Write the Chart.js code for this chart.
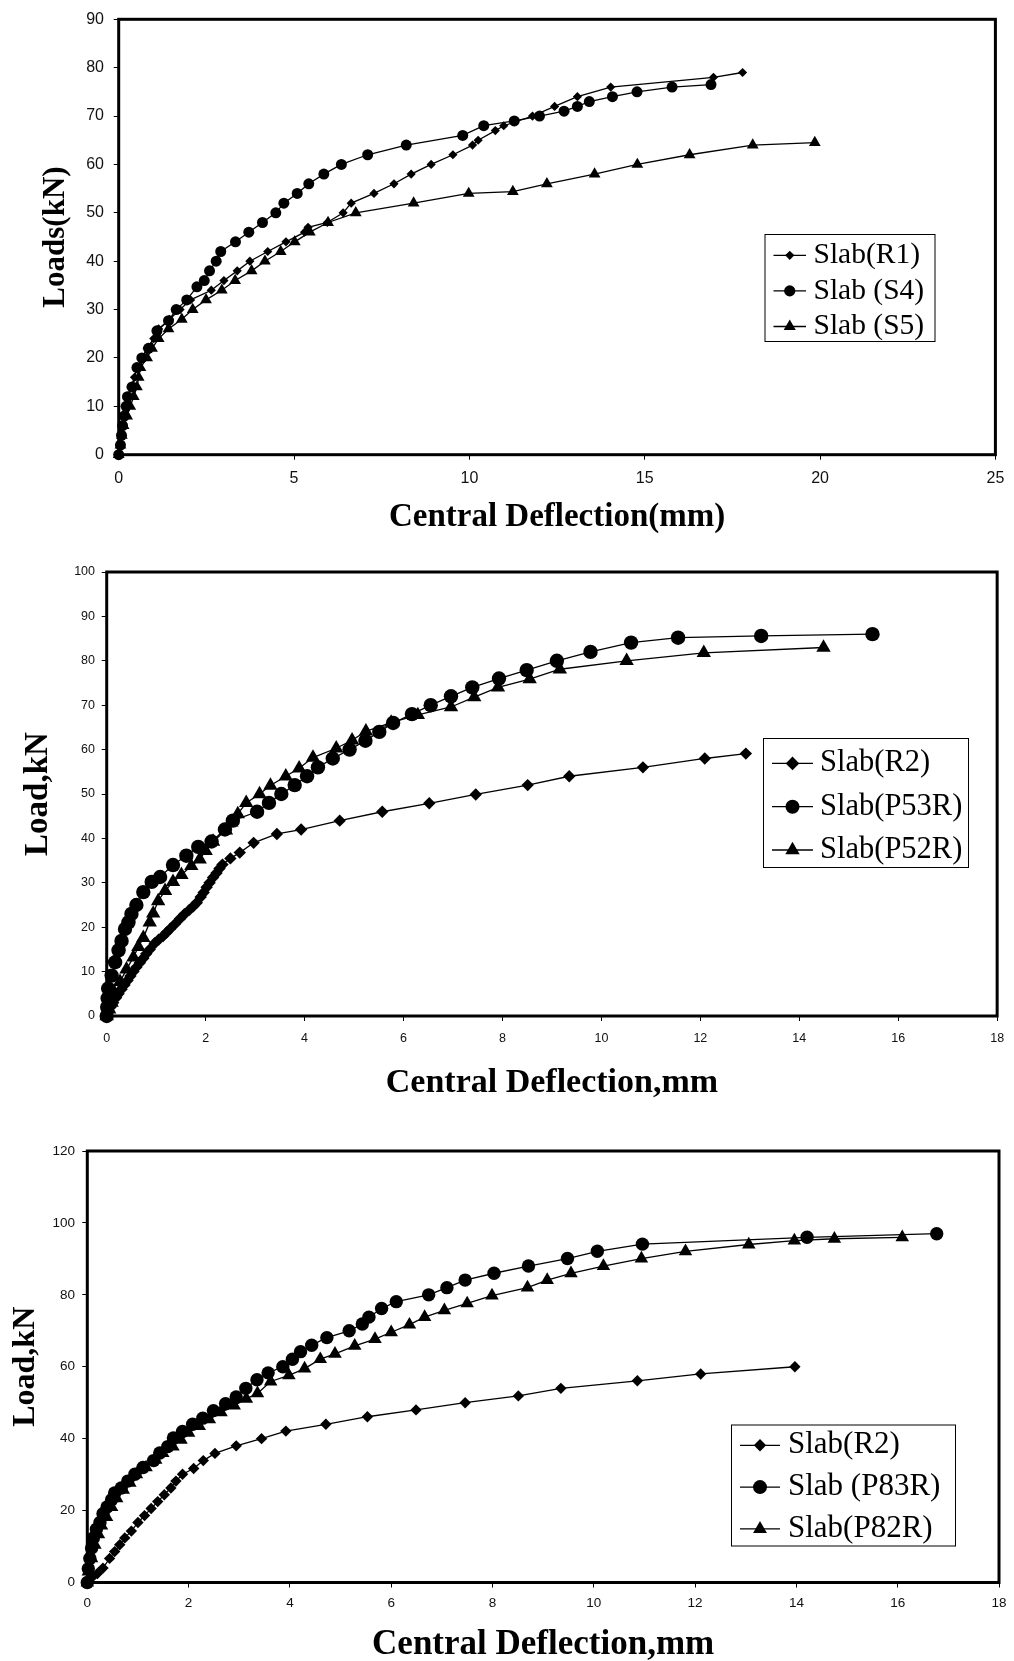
<!DOCTYPE html>
<html>
<head>
<meta charset="utf-8">
<script src="https://cdn.jsdelivr.net/npm/chart.js@4.4.1/dist/chart.umd.min.js"></script>
<style>
html, body { margin: 0; padding: 0; background: #fff; }
#wrap { position: relative; width: 1014px; height: 1661px; }
canvas { position: absolute; left: 0; }
</style>
</head>
<body>
<div id="wrap">
  <canvas id="c1" width="1014" height="540" style="top:0"></canvas>
  <canvas id="c2" width="1014" height="570" style="top:540px"></canvas>
  <canvas id="c3" width="1014" height="551" style="top:1110px"></canvas>
</div>
<script>
// ---- chart 1 : Slab R1 / S4 / S5
const r1Defl = [0, 0.03, 0.06, 0.09, 0.13, 0.18, 0.24, 0.35, 0.45, 0.53, 0.66, 0.81, 1.0, 1.14, 1.45, 1.75, 2.05, 2.64, 3.0, 3.38, 3.74, 4.25, 4.77, 5.3, 5.4, 5.95, 6.4, 6.63, 7.28, 7.85, 8.34, 8.91, 9.53, 10.09, 10.25, 10.74, 10.98, 11.8, 12.43, 13.08, 14.03, 16.96, 17.79];
const r1Load = [0, 2, 4, 6, 8, 10, 12, 14, 16, 18, 20, 22, 24, 26, 28, 30, 32, 34, 36, 38, 40, 42, 44, 46, 47, 48, 50, 52, 54, 56, 58, 60, 62, 64, 65, 67, 68, 70, 72, 74, 76, 78, 79];
const s4Defl = [0, 0.05, 0.08, 0.11, 0.16, 0.21, 0.25, 0.38, 0.52, 0.66, 0.85, 1.09, 1.42, 1.64, 1.94, 2.23, 2.44, 2.59, 2.78, 2.91, 3.33, 3.71, 4.10, 4.48, 4.71, 5.09, 5.42, 5.85, 6.35, 7.10, 8.2, 9.81, 10.41, 11.28, 12.0, 12.7, 13.08, 13.42, 14.08, 14.78, 15.78, 16.89];
const s4Load = [0, 2, 4, 6, 8, 10, 12, 14, 18, 20, 22, 25.6, 27.7, 30, 32, 34.7, 36, 38, 40, 42, 44, 46, 48, 50, 52, 54, 56, 58, 60, 62, 64, 66, 68, 69, 70, 71, 72, 73, 74, 75, 76, 76.5];
const s5Defl = [0, 0.05, 0.09, 0.14, 0.24, 0.33, 0.43, 0.52, 0.57, 0.62, 0.81, 0.95, 1.14, 1.42, 1.8, 2.11, 2.49, 2.94, 3.32, 3.79, 4.17, 4.62, 5.02, 5.45, 5.97, 6.76, 8.41, 9.98, 11.24, 12.21, 13.57, 14.79, 16.28, 18.08, 19.85];
const s5Load = [0, 2, 4, 6, 8, 10, 12, 14, 16, 18, 20, 22, 24, 26, 28, 30, 32, 34, 36, 38, 40, 42, 44, 46, 48, 50, 52, 54, 54.4, 56, 58, 60, 62, 64, 64.5];

// ---- chart 2 : Slab R2 / P53R / P52R
const r2Defl = [0, 0.04, 0.08, 0.13, 0.18, 0.24, 0.3, 0.36, 0.42, 0.48, 0.54, 0.6, 0.67, 0.74, 0.8, 0.87, 0.97, 1.05, 1.14, 1.21, 1.28, 1.38, 1.48, 1.57, 1.67, 1.75, 1.82, 1.9, 1.96, 2.02, 2.08, 2.15, 2.22, 2.28, 2.34, 2.5, 2.69, 2.97, 3.44, 3.93, 4.71, 5.57, 6.52, 7.46, 8.51, 9.35, 10.84, 12.09, 12.92];
const r2Load = [0, 1, 2, 3, 4, 5, 6, 7, 8, 9, 10, 11, 12, 13, 14, 15, 16.4, 17.2, 18, 18.8, 19.6, 20.7, 21.9, 22.9, 23.9, 24.7, 25.5, 26.8, 27.8, 29, 30, 31.2, 32.2, 33.2, 34.1, 35.5, 36.8, 39, 41, 42, 44, 46, 47.9, 49.9, 52, 54, 56, 58, 59.1];
const p53Defl = [0, 0.01, 0.02, 0.03, 0.1, 0.17, 0.24, 0.3, 0.37, 0.44, 0.5, 0.6, 0.74, 0.91, 1.08, 1.34, 1.61, 1.85, 2.12, 2.39, 2.55, 3.04, 3.28, 3.53, 3.8, 4.05, 4.27, 4.57, 4.91, 5.23, 5.51, 5.79, 6.17, 6.55, 6.96, 7.39, 7.93, 8.49, 9.1, 9.78, 10.6, 11.55, 13.23, 15.48];
const p53Load = [0, 2, 4, 6.2, 9.1, 12.1, 14.8, 16.9, 19.6, 21.1, 23, 25, 27.9, 30.2, 31.3, 34, 36.1, 38.1, 39.3, 42, 44, 46, 48, 50, 52, 54, 56, 58, 60, 62, 64, 66, 68, 70, 72, 74, 76, 77.9, 80, 82, 84.1, 85.2, 85.6, 86];
const p52Defl = [0, 0.05, 0.1, 0.17, 0.27, 0.4, 0.54, 0.64, 0.74, 0.87, 0.94, 1.04, 1.18, 1.34, 1.51, 1.71, 1.88, 2.0, 2.15, 2.41, 2.52, 2.65, 2.82, 3.09, 3.31, 3.62, 3.89, 4.17, 4.64, 4.96, 5.24, 5.75, 6.29, 6.96, 7.43, 7.91, 8.55, 9.16, 10.51, 12.07, 14.49];
const p52Load = [0, 1.5, 3, 5, 7.7, 10.5, 13.2, 15.6, 17.6, 21.1, 23.1, 25.9, 28.2, 30.2, 31.8, 33.8, 35.3, 37.2, 39.3, 41.8, 43.6, 45.5, 48, 50, 51.9, 54, 55.8, 58.2, 60.3, 62.1, 64.1, 66.1, 67.8, 69.6, 71.8, 74, 75.9, 78.1, 80, 81.8, 83];

// ---- chart 3 : Slab R2 / P83R / P82R
const r2bDefl = [0, 0.1, 0.2, 0.31, 0.44, 0.54, 0.64, 0.74, 0.87, 1.0, 1.13, 1.26, 1.39, 1.52, 1.65, 1.75, 1.88, 2.1, 2.29, 2.52, 2.94, 3.44, 3.92, 4.71, 5.53, 6.49, 7.46, 8.51, 9.35, 10.86, 12.11, 13.97];
const r2bLoad = [0, 1.5, 2.5, 4, 6.7, 8.6, 10.5, 12.4, 14.3, 16.7, 18.6, 20.6, 22.5, 24.4, 26.3, 28.2, 30.1, 31.7, 33.9, 35.9, 38, 40, 42.1, 44, 46.1, 48, 50, 51.9, 54, 56.1, 58, 60];
const p83Defl = [0, 0.02, 0.05, 0.085, 0.12, 0.18, 0.25, 0.31, 0.39, 0.48, 0.54, 0.67, 0.8, 0.94, 1.1, 1.31, 1.43, 1.59, 1.7, 1.88, 2.08, 2.28, 2.49, 2.73, 2.94, 3.13, 3.35, 3.57, 3.86, 4.05, 4.21, 4.43, 4.73, 5.17, 5.43, 5.56, 5.81, 6.1, 6.74, 7.1, 7.46, 8.03, 8.71, 9.48, 10.07, 10.96, 14.21, 16.77];
const p83Load = [0, 3.8, 6.7, 9.6, 12.4, 14.8, 16.7, 19.1, 21, 23, 24.9, 26.3, 28.2, 30.1, 32, 33.9, 36, 37.8, 40.2, 42, 44, 45.7, 47.8, 49.7, 51.6, 54, 56.4, 58.3, 60, 62.1, 64.2, 66, 68.1, 70, 71.9, 73.8, 76.2, 78.1, 80, 82, 84.1, 86, 88, 90.1, 92.1, 94.1, 96, 97];
const p82Defl = [0, 0.02, 0.085, 0.15, 0.22, 0.28, 0.38, 0.48, 0.58, 0.71, 0.84, 0.97, 1.16, 1.35, 1.49, 1.69, 1.85, 2.0, 2.21, 2.41, 2.64, 2.9, 3.14, 3.36, 3.62, 3.98, 4.29, 4.6, 4.89, 5.28, 5.68, 6.0, 6.36, 6.66, 7.05, 7.5, 7.99, 8.69, 9.08, 9.55, 10.19, 10.94, 11.81, 13.06, 13.96, 14.75, 16.09];
const p82Load = [0, 3, 6.7, 10.5, 13.4, 15.8, 18.2, 21, 23.4, 25.8, 27.7, 30.1, 32, 34.1, 36, 37.8, 39.7, 41.6, 43.5, 45.4, 47.3, 49.2, 51.1, 52.6, 55.9, 57.6, 59.5, 62.1, 63.6, 65.8, 67.7, 69.6, 71.7, 73.8, 75.7, 77.6, 79.8, 82, 84.1, 86, 88, 90.1, 92.1, 94, 95.1, 95.6, 96];

// 테두리 (축 4면 굵은 선)
const frame = {
    id: 'frame',
    beforeDatasetsDraw(chart, args, o) {
        const { ctx, chartArea: a } = chart;
        ctx.save();
        ctx.lineWidth = o.width || 3;
        ctx.strokeStyle = '#000';
        ctx.strokeRect(a.left, a.top, a.right - a.left, a.bottom - a.top);
        ctx.restore();
    }
};

function marker(ctx, style, x, y, r) {
    ctx.beginPath();
    if (style === 'circle') ctx.arc(x, y, r, 0, Math.PI * 2);
    else if (style === 'rectRot') { ctx.moveTo(x - r, y); ctx.lineTo(x, y - r); ctx.lineTo(x + r, y); ctx.lineTo(x, y + r); ctx.closePath(); }
    else { ctx.moveTo(x, y - r); ctx.lineTo(x + r * 0.866, y + r / 2); ctx.lineTo(x - r * 0.866, y + r / 2); ctx.closePath(); }
    ctx.fill();
}

// 범례 박스 (선 + 마커 + 글자)
const boxLegend = {
    id: 'boxLegend',
    afterDraw(chart, args, o) {
        const ctx = chart.ctx;
        ctx.save();
        ctx.strokeStyle = '#000';
        ctx.fillStyle = '#000';
        ctx.lineWidth = 1;
        ctx.strokeRect(o.x + 0.5, o.y + 0.5, o.w, o.h);
        ctx.font = o.size + 'px "Liberation Serif", "Times New Roman", serif';
        ctx.textBaseline = 'middle';
        chart.data.datasets.forEach((ds, i) => {
            const cy = o.y + o.first + i * o.step;
            ctx.lineWidth = 1.3;
            ctx.beginPath(); ctx.moveTo(o.lx1, cy); ctx.lineTo(o.lx2, cy); ctx.stroke();
            marker(ctx, ds.pointStyle, (o.lx1 + o.lx2) / 2, cy, o.radii[i]);
            ctx.fillText(ds.label, o.tx, cy);
        });
        ctx.restore();
    }
};

function series(label, xs, ys, style, r) {
    return {
        label,
        data: xs.map((x, i) => ({ x, y: ys[i] })),
        showLine: true
        ,borderColor: '#000'
        ,borderWidth: 1.3
        ,backgroundColor: '#000'
        ,pointStyle: style
        ,pointRadius: r
        ,pointBorderWidth: 0
        ,pointBackgroundColor: '#000'
        ,clip: false
    };
}

function axes(o) {
    const tickFont = { family: '"Liberation Sans", Arial, sans-serif', size: o.tick };
    const titleFont = (s, lh) => ({ family: '"Liberation Serif", "Times New Roman", serif', size: s, weight: 'bold', lineHeight: lh || 1 });
    return {
        x: {
            type: 'linear', min: 0, max: o.xMax,
            afterFit: (s) => { s.height = o.xH; },
            ticks: { stepSize: o.xStep, padding: o.xPad, color: '#111', font: tickFont, maxRotation: 0, autoSkip: false },
            grid: { drawOnChartArea: false, tickLength: 5, color: '#000', lineWidth: 1 },
            border: { display: false },
            title: { display: true, text: o.xTitle, color: '#000', font: titleFont(o.xtSize, o.xtLh), padding: { top: 0, bottom: o.xtPad } }
        },
        y: {
            type: 'linear', min: 0, max: o.yMax,
            afterFit: (s) => { s.width = o.yW; },
            ticks: { stepSize: o.yStep, padding: o.yPad, color: '#111', font: tickFont, autoSkip: false },
            grid: { drawOnChartArea: false, tickLength: 5, color: '#000', lineWidth: 1 },
            border: { display: false },
            title: { display: true, text: o.yTitle, color: '#000', font: titleFont(o.ytSize), padding: { top: o.ytPad, bottom: 0 } }
        }
    };
}

function makeChart(id, datasets, pad, ax, legend) {
    return new Chart(document.getElementById(id), {
        type: 'scatter',
        data: { datasets },
        options: {
            responsive: false,
            maintainAspectRatio: false,
            animation: false,
            layout: { padding: pad },
            plugins: { legend: { display: false }, tooltip: { enabled: false }, frame: { width: 3 }, boxLegend: legend },
            scales: axes(ax)
        },
        plugins: [frame, boxLegend]
    });
}

makeChart('c1', [
    series('Slab(R1)', r1Defl, r1Load, 'rectRot', 4.6),
    series('Slab (S4)', s4Defl, s4Load, 'circle', 5.5),
    series('Slab (S5)', s5Defl, s5Load, 'triangle', 6.8)
], { left: 0, top: 18.9, right: 16, bottom: 0 },
{ xMax: 25, xStep: 5, yMax: 90, yStep: 10, xH: 85.3, yW: 118.7, tick: 16, xPad: 9.7, yPad: 9.7,
  xTitle: 'Central Deflection(mm)', xtSize: 33, xtPad: 6.5, yTitle: 'Loads(kN)', ytSize: 31, ytPad: 40.5 },
{ x: 764.5, y: 234, w: 170, h: 107, first: 21.3, step: 35.6, lx1: 773.5, lx2: 806, tx: 813.5, size: 29.5, radii: [4.6, 5.6, 7] });

makeChart('c2', [
    series('Slab(R2)', r2Defl, r2Load, 'rectRot', 6.2),
    series('Slab(P53R)', p53Defl, p53Load, 'circle', 7.2),
    series('Slab(P52R)', p52Defl, p52Load, 'triangle', 8.3)
], { left: 0, top: 32, right: 16, bottom: 0 },
{ xMax: 18, xStep: 2, yMax: 100, yStep: 10, xH: 94, yW: 106.7, tick: 12.5, xPad: 9.9, yPad: 6.7,
  xTitle: 'Central Deflection,mm', xtSize: 34, xtPad: 10, yTitle: 'Load,kN', ytSize: 33, ytPad: 22.3 },
{ x: 763, y: 198, w: 205, h: 129, first: 25.4, step: 43.3, lx1: 772, lx2: 813, tx: 820, size: 30.5, radii: [6.8, 7, 8.3] });

makeChart('c3', [
    series('Slab(R2)', r2bDefl, r2bLoad, 'rectRot', 5.7),
    series('Slab (P83R)', p83Defl, p83Load, 'circle', 6.7),
    series('Slab(P82R)', p82Defl, p82Load, 'triangle', 7.8)
], { left: 0, top: 41, right: 15, bottom: 0 },
{ xMax: 18, xStep: 2, yMax: 120, yStep: 20, xH: 78.5, yW: 87.3, tick: 13.5, xPad: 7.4, yPad: 7.3,
  xTitle: 'Central Deflection,mm', xtSize: 35, xtLh: 0.9, xtPad: 0.3, yTitle: 'Load,kN', ytSize: 32, ytPad: 9.5 },
{ x: 731, y: 314.5, w: 224, h: 121, first: 20.8, step: 41.8, lx1: 740, lx2: 780, tx: 788, size: 31, radii: [6.2, 7, 8] });
</script>
</body>
</html>
